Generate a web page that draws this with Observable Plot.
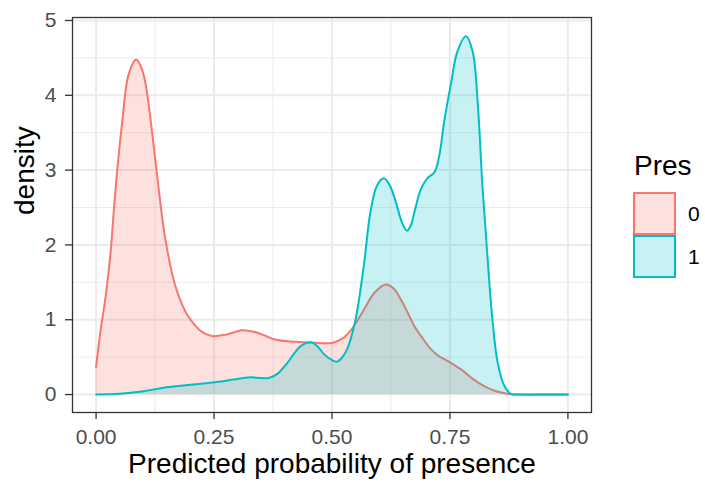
<!DOCTYPE html>
<html><head><meta charset="utf-8">
<script src="https://cdn.jsdelivr.net/npm/d3@7"></script>
<script src="https://cdn.jsdelivr.net/npm/@observablehq/plot@0.6"></script>
<style>
html,body{margin:0;padding:0;background:#fff;}
#wrap{position:relative;width:705px;height:483px;font-family:"Liberation Sans",Arial,Helvetica,sans-serif;}
#legend{position:absolute;left:0;top:0;pointer-events:none;}
</style></head><body><div id="wrap"></div>
<script>
const groups = ["0", "1"];
const colors = ["#F8766D", "#00BFC4"];
const absentX = [0.000,0.010,0.020,0.030,0.041,0.055,0.069,0.085,0.097,0.105,0.119,0.133,0.147,0.168,0.190,0.205,0.218,0.232,0.248,0.275,0.310,0.345,0.377,0.410,0.440,0.470,0.500,0.525,0.540,0.555,0.570,0.590,0.614,0.630,0.646,0.660,0.674,0.690,0.709,0.725,0.745,0.760,0.775,0.794,0.810,0.830,0.850,0.872,0.900,0.950,1.000];
const absentDensity = [0.37,0.88,1.30,1.85,2.73,3.62,4.28,4.48,4.35,4.15,3.49,2.73,2.07,1.45,1.10,0.96,0.87,0.81,0.78,0.80,0.86,0.82,0.74,0.71,0.70,0.69,0.69,0.76,0.86,1.00,1.16,1.36,1.47,1.42,1.27,1.10,0.92,0.77,0.61,0.52,0.45,0.39,0.33,0.23,0.16,0.09,0.04,0.01,0.00,0.00,0.00];
const presentX = [0.000,0.050,0.083,0.101,0.125,0.153,0.175,0.200,0.232,0.260,0.290,0.327,0.350,0.366,0.385,0.405,0.420,0.434,0.455,0.470,0.483,0.500,0.511,0.522,0.533,0.547,0.554,0.568,0.582,0.596,0.610,0.622,0.632,0.649,0.659,0.667,0.674,0.688,0.702,0.717,0.727,0.738,0.752,0.766,0.784,0.798,0.809,0.819,0.830,0.840,0.851,0.865,0.879,0.900,0.950,1.000];
const presentDensity = [0.00,0.01,0.03,0.045,0.07,0.10,0.115,0.13,0.15,0.17,0.20,0.23,0.22,0.22,0.28,0.42,0.55,0.65,0.70,0.64,0.54,0.46,0.44,0.50,0.62,0.92,1.14,1.75,2.46,2.80,2.89,2.80,2.64,2.29,2.19,2.26,2.42,2.74,2.89,2.97,3.18,3.66,4.15,4.59,4.79,4.59,3.88,2.77,1.80,1.00,0.43,0.12,0.01,0.00,0.00,0.00];
const xTicks = [0, 0.25, 0.5, 0.75, 1];
const xMinor = [0.125, 0.375, 0.625, 0.875];
const yTicks = [0, 1, 2, 3, 4, 5];
const yMinor = [0.5, 1.5, 2.5, 3.5, 4.5];
const xTitle = "Predicted probability of presence";
const yTitle = "density";
const legendTitle = "Pres";

const FONT = '"Liberation Sans", Arial, Helvetica, sans-serif';
const ALPHA = 0.22;
const CURVE = "catmull-rom";
const absent = absentX.map((x, i) => ({x, density: absentDensity[i], Pres: groups[0]}));
const present = presentX.map((x, i) => ({x, density: presentDensity[i], Pres: groups[1]}));

const chart = Plot.plot({
  width: 705, height: 483,
  marginLeft: 72, marginRight: 114, marginTop: 17, marginBottom: 71,
  style: {fontFamily: FONT, background: "white", overflow: "visible"},
  x: {domain: [-0.05, 1.05], axis: null},
  y: {domain: [-0.24, 5.04], axis: null},
  marks: [
    Plot.ruleX(xMinor, {stroke: "#EBEBEB", strokeWidth: 1}),
    Plot.ruleY(yMinor, {stroke: "#EBEBEB", strokeWidth: 1}),
    Plot.ruleX(xTicks, {stroke: "#EBEBEB", strokeWidth: 2}),
    Plot.ruleY(yTicks, {stroke: "#EBEBEB", strokeWidth: 2}),
    Plot.areaY(absent, {x: "x", y: "density", fill: colors[0], fillOpacity: ALPHA, curve: CURVE}),
    Plot.lineY(absent, {x: "x", y: "density", stroke: colors[0], strokeWidth: 2, curve: CURVE}),
    Plot.areaY(present, {x: "x", y: "density", fill: colors[1], fillOpacity: ALPHA, curve: CURVE}),
    Plot.lineY(present, {x: "x", y: "density", stroke: colors[1], strokeWidth: 2, curve: CURVE}),
    Plot.frame({stroke: "#333333", strokeWidth: 1.3}),
    Plot.axisX(xTicks, {tickSize: 7, tickPadding: 10, fontSize: 21, stroke: "#333333", fill: "#4D4D4D", strokeWidth: 1.3, tickFormat: d3.format(".2f"), label: null}),
    Plot.axisY(yTicks, {tickSize: 7, tickPadding: 9, fontSize: 21, stroke: "#333333", fill: "#4D4D4D", strokeWidth: 1.3, tickFormat: d3.format("d"), label: null}),
    Plot.text([xTitle], {text: d => d, frameAnchor: "bottom", dy: 52, fontSize: 28, fill: "black", lineAnchor: "middle"}),
    Plot.text([yTitle], {text: d => d, frameAnchor: "left", dx: -47, rotate: -90, fontSize: 28, fill: "black", lineAnchor: "middle"})
  ]
});
const wrap = document.getElementById("wrap");
wrap.appendChild(chart);

// Legend
const leg = d3.select(wrap).append("svg").attr("id", "legend")
  .attr("width", 705).attr("height", 483).style("font-family", FONT);
leg.append("text").attr("x", 634).attr("y", 175).attr("font-size", 28).attr("fill", "black").text(legendTitle);
groups.forEach((g, i) => {
  const y0 = 193 + i * 43;
  leg.append("rect").attr("x", 634).attr("y", y0).attr("width", 41).attr("height", 41)
    .attr("fill", "white");
  leg.append("rect").attr("x", 634).attr("y", y0).attr("width", 41).attr("height", 41)
    .attr("fill", colors[i]).attr("fill-opacity", ALPHA)
    .attr("stroke", colors[i]).attr("stroke-width", 2);
  leg.append("text").attr("x", 688).attr("y", y0 + 21).attr("dy", "0.35em")
    .attr("font-size", 21).attr("fill", "black").text(g);
});
</script>
</body></html>
